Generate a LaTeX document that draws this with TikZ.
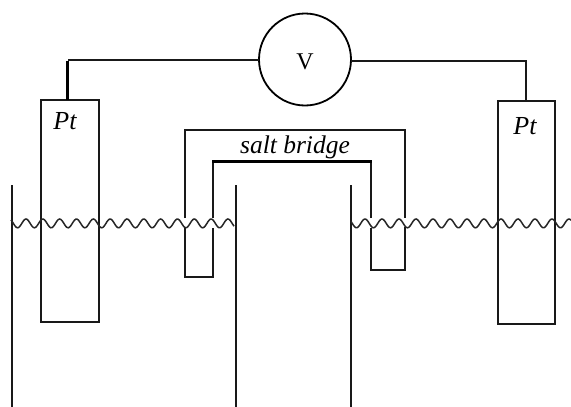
\documentclass[tikz,border=0pt]{standalone}
\usepackage{fontspec}
\setmainfont{Liberation Serif}
\tikzset{
  x=1pt,y=-1pt,
  line/.style={line width=2pt,black!90},
  electrode/.style={draw=black!90,line width=2pt,inner sep=0pt,outer sep=0pt},
  meter/.style={draw,circle,line width=1.8pt,minimum size=92pt,inner sep=0pt,outer sep=0pt},
  wave/.style={line width=1.5pt,black!85,smooth},
  label/.style={anchor=base,inner sep=0pt,font=\fontsize{26}{26}\selectfont\itshape},
  sblabel/.style={anchor=base,inner sep=0pt,font=\fontsize{25.5}{26}\selectfont\itshape},
  vlabel/.style={anchor=base,inner sep=0pt,font=\fontsize{24}{24}\selectfont}
}
\begin{document}
\begin{tikzpicture}
\useasboundingbox[fill=white] (0,0) rectangle (571,407);
% beaker walls
\draw[line] (12,185) -- (12,407);
\draw[line] (236,185) -- (236,407);
\draw[line] (351,185) -- (351,407);
% electrodes
\node[electrode,minimum width=58pt,minimum height=222pt] (L) at (70,211) {};
\node[electrode,minimum width=57pt,minimum height=223pt] (R) at (526.5,212.5) {};
% voltmeter
\node[meter] (V) at (305,59.5) {};
\node[vlabel] (Vt) at (305,69) {V};
% wires
\coordinate (Lt) at ([xshift=-2.5pt]L.north);
\coordinate (Rt) at ([xshift=-0.5pt]R.north);
\coordinate (VL) at (V.west |- 0,60);
\coordinate (VR) at (V.east |- 0,61);
\draw[line] (VL) -- (Lt |- VL);
\draw[line width=3pt,black] ([yshift=-1pt]Lt |- VL) -- (Lt);
\draw[line] (VR) -| (Rt);
% salt bridge
\draw[line,line join=miter] (185,218) -- (185,130) -- (405,130) -- (405,218);
\draw[line,line join=miter] (185,227) -- (185,277) -- (213,277) -- (213,228);
\draw[line,line join=miter] (405,227) -- (405,270) -- (371,270) -- (371,228);
\draw[line] (213,218) -- (213,161);
\draw[line] (371,218) -- (371,161);
\draw[line width=3pt,black] (212,161.5) -- (372,161.5);
% water surface
\draw[wave] plot[domain=11:234,samples=180] (\x,{223.4-4.4*cos(21.39*(\x-26))});
\draw[wave] plot[domain=351:571,samples=180] (\x,{223.4-4.4*cos(21.18*(\x-365))});
% labels
\node[label] (Pl) at (65,129) {Pt};
\node[label] (Pr) at (525,134) {Pt};
\node[sblabel] (sb) at (295,153) {salt bridge};
\end{tikzpicture}
\end{document}
